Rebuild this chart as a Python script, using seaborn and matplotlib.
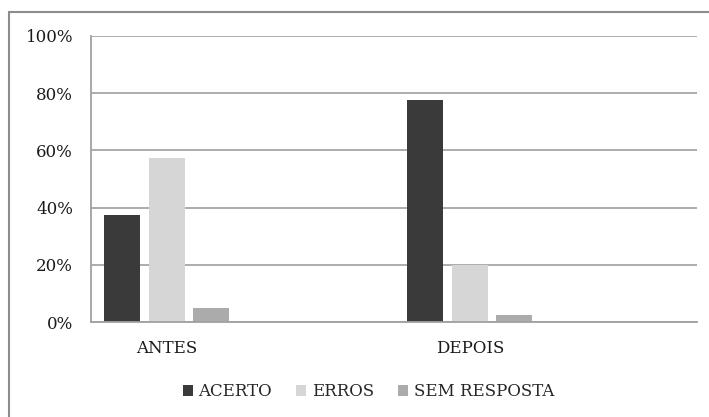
import matplotlib
matplotlib.use("Agg")
import matplotlib.pyplot as plt
from matplotlib.lines import Line2D
from matplotlib.patches import Patch
from matplotlib.ticker import FuncFormatter
import seaborn as sns
import pandas as pd

# Data
fases = ["ANTES", "DEPOIS"]
tipos = ["ACERTO", "ERROS", "SEM RESPOSTA"]
acerto = [37.5, 77.5]
erros = [57.5, 20.0]
sem_resposta = [5.0, 2.5]
y_ticks = [0, 20, 40, 60, 80, 100]

colors = ["#3a3a3a", "#d6d6d6", "#ababab"]

rows = []
for serie, vals in zip(tipos, [acerto, erros, sem_resposta]):
    for f, v in zip(fases, vals):
        rows.append({"fase": f, "tipo": serie, "valor": v})
df = pd.DataFrame(rows)

sns.set_theme(style="white")
plt.rcParams["font.family"] = ["DejaVu Serif"]

fig = plt.figure(figsize=(7.09, 4.17), dpi=100)
ax = fig.add_axes([91 / 709, 94.7 / 417, 606 / 709, 286.6 / 417])

sns.barplot(data=df, x="fase", y="valor", hue="tipo", palette=colors,
            width=0.44, gap=0.19, ax=ax, legend=False, saturation=1,
            order=fases, hue_order=tipos, linewidth=0)

ax.set_xlim(-0.25, 1.75)
ax.set_ylim(0, 100)
ax.set_yticks(y_ticks)
ax.yaxis.set_major_formatter(FuncFormatter(lambda v, p: f"{v:.0f}%"))
ax.set_xlabel("")
ax.set_ylabel("")
ax.grid(axis="y", color="#a6a6a6", linewidth=1.3)
ax.set_axisbelow(True)
for s in ["top", "right"]:
    ax.spines[s].set_visible(False)
for s in ["left", "bottom"]:
    ax.spines[s].set_color("#a0a0a0")
    ax.spines[s].set_linewidth(1.3)
ax.tick_params(axis="both", length=0, labelsize=12, colors="#1a1a1a")
ax.tick_params(axis="y", pad=13)
ax.tick_params(axis="x", pad=13)

handles = [Patch(facecolor=c, edgecolor="none") for c in colors]
fig.legend(handles, tipos, loc="center", bbox_to_anchor=(368.5 / 709, 1 - 392 / 417),
           ncol=3, frameon=False, fontsize=12, handlelength=0.6, handleheight=0.6,
           handletextpad=0.35, columnspacing=1.45)

# outer frame (cropped on right and bottom)
x0 = 8.5 / 709
yt = 1 - 11.5 / 417
fig.add_artist(Line2D([x0, x0], [-0.1, yt], transform=fig.transFigure, color="#8c8c8c", lw=1.5))
fig.add_artist(Line2D([x0, 1.1], [yt, yt], transform=fig.transFigure, color="#8c8c8c", lw=1.5))

fig.savefig("out.png", dpi=100, facecolor="white")
